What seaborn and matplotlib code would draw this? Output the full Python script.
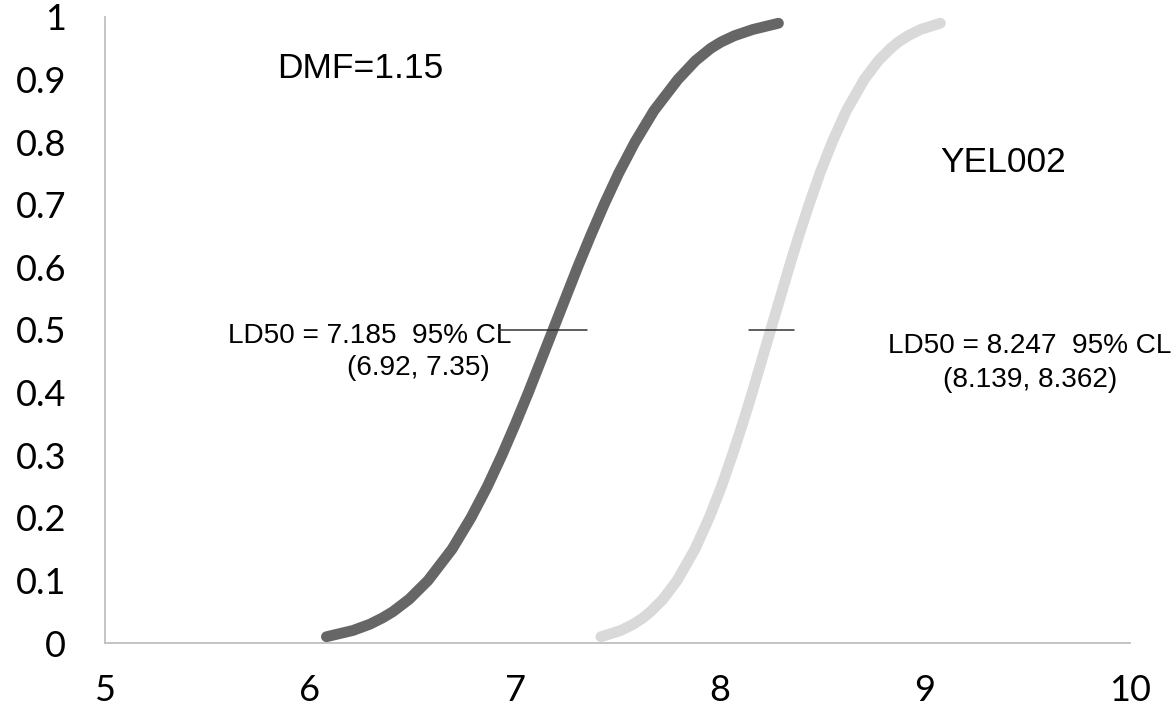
import matplotlib
matplotlib.use("Agg")
import matplotlib.pyplot as plt
import seaborn as sns
import pandas as pd

# Response levels (fraction killed)
levels = [0.01, 0.02, 0.03, 0.04, 0.05, 0.07, 0.10, 0.15, 0.20, 0.25, 0.30, 0.35,
          0.40, 0.45, 0.50, 0.55, 0.60, 0.65, 0.70, 0.75, 0.80, 0.85, 0.90, 0.93,
          0.95, 0.96, 0.97, 0.98, 0.99]
# Dose for each level
dmf_dose = [6.080, 6.209, 6.292, 6.353, 6.404, 6.484, 6.576, 6.693, 6.785, 6.865,
            6.936, 7.002, 7.065, 7.125, 7.185, 7.245, 7.305, 7.368, 7.434, 7.505,
            7.585, 7.677, 7.794, 7.880, 7.955, 8.005, 8.070, 8.160, 8.285]
yel_dose = [7.419, 7.516, 7.577, 7.624, 7.661, 7.722, 7.791, 7.878, 7.947, 8.007,
            8.060, 8.110, 8.157, 8.202, 8.247, 8.292, 8.337, 8.384, 8.434, 8.487,
            8.547, 8.616, 8.703, 8.772, 8.833, 8.870, 8.917, 8.978, 9.075]

dmf_ld50, dmf_cl = 7.185, (6.92, 7.35)
yel_ld50, yel_cl = 8.247, (8.139, 8.362)

x_ticks = [5, 6, 7, 8, 9, 10]
y_ticks = [0, 0.1, 0.2, 0.3, 0.4, 0.5, 0.6, 0.7, 0.8, 0.9, 1]
y_tick_labels = ["0", "0.1", "0.2", "0.3", "0.4", "0.5", "0.6", "0.7", "0.8", "0.9", "1"]

sns.set_style("white")
plt.rcParams["font.family"] = ["Liberation Sans", "DejaVu Sans"]

fig = plt.figure(figsize=(11.76, 7.19), dpi=100)
ax = fig.add_axes([0.0893, 0.1057, 0.8716, 0.8707])

df_dmf = pd.DataFrame({"dose": dmf_dose, "p": levels})
df_yel = pd.DataFrame({"dose": yel_dose, "p": levels})

sns.lineplot(data=df_dmf, x="dose", y="p", ax=ax, color="#666666", linewidth=7.8,
             estimator=None, sort=False, solid_capstyle="round", solid_joinstyle="round",
             zorder=3)
sns.lineplot(data=df_yel, x="dose", y="p", ax=ax, color="#d9d9d9", linewidth=7.8,
             estimator=None, sort=False, solid_capstyle="round", solid_joinstyle="round",
             zorder=3)

# confidence limits at LD50
ax.plot(list(dmf_cl), [0.5, 0.5], color="#333333", linewidth=1.1, zorder=4)
ax.plot(list(yel_cl), [0.5, 0.5], color="#333333", linewidth=1.1, zorder=4)

ax.set_xlim(5, 10)
ax.set_ylim(0, 1)
ax.set_xticks(x_ticks)
ax.set_xticklabels([str(v) for v in x_ticks])
ax.set_yticks(y_ticks)
ax.set_yticklabels(y_tick_labels)
ax.set_xlabel("")
ax.set_ylabel("")

for s in ["top", "right"]:
    ax.spines[s].set_visible(False)
for s in ["left", "bottom"]:
    ax.spines[s].set_color("#bfbfbf")
    ax.spines[s].set_linewidth(1.3)

ax.tick_params(axis="x", direction="out", length=11, width=1.3, color="#bfbfbf",
               pad=11, labelsize=26)
ax.tick_params(axis="y", direction="out", length=10, width=1.3, color="#bfbfbf",
               pad=18, labelsize=26)
for lab in ax.get_xticklabels() + ax.get_yticklabels():
    lab.set_family(["Lato", "DejaVu Sans"])
    lab.set_color("black")

ax.text(5.839, 0.918, "DMF=1.15", fontsize=25.5, va="center", ha="left", color="black")
ax.text(9.073, 0.768, "YEL002", fontsize=25.5, va="center", ha="left", color="black")

ax.text(5.60, 0.490, "LD50 = 7.185  95% CL", fontsize=20.2, va="center", ha="left",
        color="black")
ax.text(6.18, 0.440, "(6.92, 7.35)", fontsize=20.2, va="center", ha="left", color="black")

ax.text(9.512, 0.475, "LD50 = 8.247  95% CL", fontsize=20.2, va="center", ha="center",
        color="black", clip_on=False)
ax.text(9.512, 0.420, "(8.139, 8.362)", fontsize=20.2, va="center", ha="center",
        color="black", clip_on=False)

fig.savefig("out.png", dpi=100)
